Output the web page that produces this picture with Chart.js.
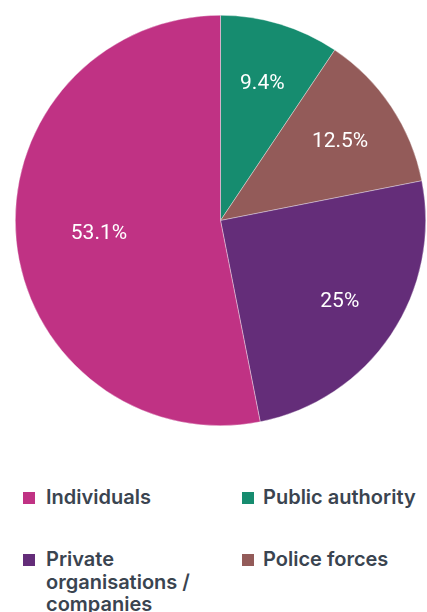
<!DOCTYPE html>
<html><head><meta charset="utf-8">
<script src="https://cdn.jsdelivr.net/npm/chart.js@4"></script>
<style>
html,body{margin:0;padding:0;background:#fff;overflow:hidden;width:427px;height:612px;}
#wrap{position:absolute;left:0;top:0;width:427px;height:442px;}
.leg{position:absolute;font-family:Inter,"Open Sans",sans-serif;font-weight:600;font-size:20px;line-height:22.5px;color:#3a4450;}
.leg .sw{position:absolute;left:0;top:6px;width:12px;height:12px;}
.leg .tx{position:absolute;left:22px;top:0;white-space:nowrap;}
</style></head><body>
<div id="wrap"><canvas id="c"></canvas></div>
<div id="legend"></div>
<script>
const categories = ["Public authority", "Police forces", "Private organisations / companies", "Individuals"];
const values = [9.4, 12.5, 25, 53.1];
const valueLabels = ["9.4%", "12.5%", "25%", "53.1%"];
const colors = ["#168C6F", "#935B59", "#642D79", "#C03284"];
const legendOrder = ["Individuals", "Public authority", "Private organisations / companies", "Police forces"];
const legendLines = {"Private organisations / companies": ["Private", "organisations /", "companies"]};

const labelPlugin = {
  id: 'sliceLabels',
  afterDatasetsDraw(chart) {
    const ctx = chart.ctx;
    const meta = chart.getDatasetMeta(0);
    ctx.save();
    ctx.fillStyle = '#ffffff';
    ctx.font = '400 21px Roboto, sans-serif';
    ctx.textAlign = 'center';
    ctx.textBaseline = 'middle';
    meta.data.forEach((arc, i) => {
      const p = arc.getProps(['x','y','startAngle','endAngle','outerRadius'], true);
      const mid = (p.startAngle + p.endAngle) / 2;
      const f = values[i] > 50 ? 0.595 : 0.7;
      const r = p.outerRadius * f;
      ctx.fillText(valueLabels[i], p.x + Math.cos(mid) * r, p.y + Math.sin(mid) * r + 1);
    });
    ctx.restore();
  }
};

new Chart(document.getElementById('c'), {
  type: 'pie',
  data: {
    labels: categories,
    datasets: [{
      data: values,
      backgroundColor: colors,
      borderColor: 'rgba(255,255,255,0.6)',
      borderWidth: 0.6
    }]
  },
  options: {
    responsive: true,
    maintainAspectRatio: false,
    animation: false,
    layout: {padding: {left: 14, right: 0, top: 15, bottom: 16}},
    plugins: {legend: {display: false}, tooltip: {enabled: false}}
  },
  plugins: [labelPlugin]
});

const legendPos = [[23, 486], [242, 486], [23, 548], [242, 548]];
const legendEl = document.getElementById('legend');
legendOrder.forEach((name, k) => {
  const i = categories.indexOf(name);
  const d = document.createElement('div');
  d.className = 'leg';
  d.style.left = legendPos[k][0] + 'px';
  d.style.top = legendPos[k][1] + 'px';
  const sw = document.createElement('div');
  sw.className = 'sw';
  sw.style.background = colors[i];
  const tx = document.createElement('div');
  tx.className = 'tx';
  tx.style.left = (k % 2 === 0 ? 23 : 21) + 'px';
  tx.innerHTML = (legendLines[name] || [name]).join('<br>');
  d.appendChild(sw); d.appendChild(tx);
  legendEl.appendChild(d);
});
</script>
</body></html>
